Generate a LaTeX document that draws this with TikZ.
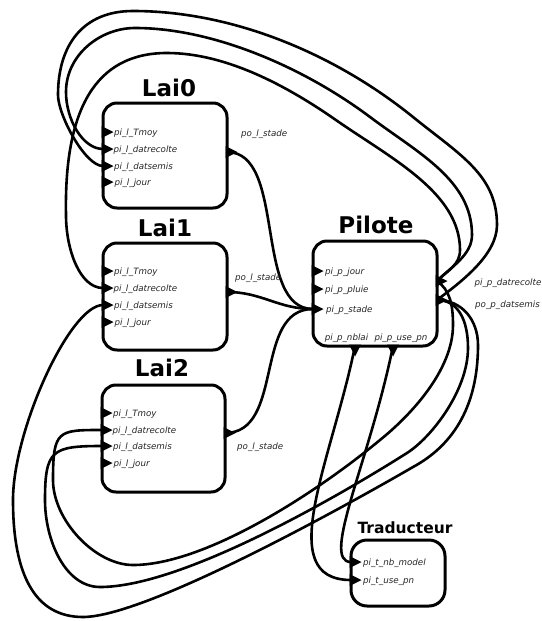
\documentclass[tikz,border=0pt]{standalone}
\usepackage{fontspec}
\setmainfont{DejaVu Sans}[ItalicFont={DejaVu Sans Oblique},BoldFont={DejaVu Sans Bold}]
\begin{document}
\begin{tikzpicture}[x=1pt,y=-1pt,
  block/.style={draw, fill=white, line width=3pt, rounded corners=14pt, inner sep=0pt},
  title/.style={font=\fontsize{23}{23}\selectfont\bfseries, anchor=base, inner sep=0pt},
  smalltitle/.style={font=\fontsize{15.5}{16}\selectfont\bfseries, anchor=base, inner sep=0pt},
  plabel/.style={font=\fontsize{8.7}{9}\selectfont\itshape, text=black!85, anchor=base west, inner sep=0pt},
  clabel/.style={font=\fontsize{8.7}{9}\selectfont\itshape, text=black!85, anchor=base, inner sep=0pt},
  wire/.style={line width=2.6pt},
  pics/portR/.style={code={\fill (-1.5,-6) -- (10.5,0) -- (-1.5,6) -- cycle;}},
  pics/portD/.style={code={\fill (-6,-1.5) -- (0,10.5) -- (6,-1.5) -- cycle;}},
]
\useasboundingbox (0,0) rectangle (541,621);

% ---------- ports ----------
% Lai0
\coordinate (l0-tmoy) at (103,132);
\coordinate (l0-dr)   at (103,149);
\coordinate (l0-ds)   at (103,166);
\coordinate (l0-jour) at (103,182);
\coordinate (l0-out)  at (227,152);
% Lai1
\coordinate (l1-tmoy) at (103,271);
\coordinate (l1-dr)   at (103,288);
\coordinate (l1-ds)   at (103,305);
\coordinate (l1-jour) at (103,322);
\coordinate (l1-out)  at (227,292);
% Lai2
\coordinate (l2-tmoy) at (102,413);
\coordinate (l2-dr)   at (102,430);
\coordinate (l2-ds)   at (102,446);
\coordinate (l2-jour) at (102,463);
\coordinate (l2-out)  at (225,433);
% Pilote
\coordinate (p-jour)  at (313,271);
\coordinate (p-pluie) at (313,289);
\coordinate (p-stade) at (313,309);
\coordinate (p-dr)    at (437,281);
\coordinate (p-ds)    at (437,300);
\coordinate (p-nblai) at (355,346);
\coordinate (p-usepn) at (393,346);
% Traducteur
\coordinate (t-nbm)   at (351,562);
\coordinate (t-usepn) at (351,580);

% ---------- connections ----------
% stade outputs into the pilot
\draw[wire] (l0-out) .. controls (287,152) and (253,309) .. (p-stade);
\draw[wire] (l1-out) .. controls (262,292) and (278,309) .. (p-stade);
\draw[wire] (l2-out) .. controls (285,433) and (253,309) .. (p-stade);

% upper feedback loops
\draw[wire] (p-ds) .. controls (461,282) and (497,255) .. (497,225)
  .. controls (497,175) and (460,155) .. (413,117)
  .. controls (335,54) and (233,11) .. (133,11)
  .. controls (83,11) and (58,45) .. (58,95)
  .. controls (58,115) and (85,166) .. (l0-ds);
\draw[wire] (p-dr) .. controls (451,267) and (472,255) .. (472,235)
  .. controls (472,180) and (418,153) .. (370,117)
  .. controls (306,69) and (215,28) .. (135,28)
  .. controls (100,28) and (66,55) .. (66,92)
  .. controls (66,120) and (83,149) .. (l0-dr);
\draw[wire] (p-dr) .. controls (448,270) and (460,265) .. (460,250)
  .. controls (460,192) and (390,158) .. (333,118)
  .. controls (288,87) and (227,53) .. (167,53)
  .. controls (95,53) and (64,110) .. (66,215)
  .. controls (66,250) and (80,288) .. (l1-dr);

% lower feedback loops
\draw[wire] (p-ds) .. controls (462,300) and (478,320) .. (478,345)
  .. controls (478,410) and (450,447) .. (413,467)
  .. controls (370,492) and (150,617) .. (83,617)
  .. controls (35,617) and (13,575) .. (13,500)
  .. controls (13,430) and (70,305) .. (l1-ds);
\draw[wire] (p-ds) .. controls (458,300) and (468,320) .. (468,348)
  .. controls (468,390) and (432,437) .. (407,453)
  .. controls (331,501) and (180,587) .. (100,587)
  .. controls (65,587) and (45,540) .. (45,500)
  .. controls (45,450) and (52,446) .. (l2-ds);
\draw[wire] (p-dr) .. controls (450,290) and (453,305) .. (453,325)
  .. controls (453,370) and (411,415) .. (380,440)
  .. controls (311,497) and (203,565) .. (133,565)
  .. controls (95,565) and (53,520) .. (53,480)
  .. controls (53,430) and (58,430) .. (l2-dr);

% pilot to translator
\draw[wire] (p-nblai) .. controls (332,460) and (272,580) .. (t-usepn);
\draw[wire] (p-usepn) .. controls (370,460) and (320,562) .. (t-nbm);

% ---------- blocks ----------
\node[block, minimum width=124pt, minimum height=105pt] (lai0) at (165,155.5) {};
\node[block, minimum width=124pt, minimum height=107pt] (lai1) at (165,296.5) {};
\node[block, minimum width=123pt, minimum height=107pt] (lai2) at (163.5,438.5) {};
\node[block, minimum width=124pt, minimum height=105pt] (pilote) at (375,293.5) {};
\node[block, minimum width=94pt, minimum height=66pt, rounded corners=16pt] (trad) at (398,573) {};

% titles
\node[title] (lai0-title) at (169,96.5) {Lai0};
\node[title] (lai1-title) at (165,236.5) {Lai1};
\node[title] (lai2-title) at (162,376.5) {Lai2};
\node[title] (pilote-title) at (376,233.5) {Pilote};
\node[smalltitle] (trad-title) at (405,533.5) {Traducteur};

% port markers
\foreach \p in {l0-tmoy,l0-dr,l0-ds,l0-jour,l0-out,
                l1-tmoy,l1-dr,l1-ds,l1-jour,l1-out,
                l2-tmoy,l2-dr,l2-ds,l2-jour,l2-out,
                p-jour,p-pluie,p-stade,p-dr,p-ds,t-nbm,t-usepn}
  \pic at (\p) {portR};
\pic at (p-nblai) {portD};
\pic at (p-usepn) {portD};

% port names
\node[plabel] (l0-tmoy-lbl) at (114,135) {pi\_l\_Tmoy};
\node[plabel] (l0-dr-lbl)   at (113.5,152) {pi\_l\_datrecolte};
\node[plabel] (l0-ds-lbl)   at (114,169) {pi\_l\_datsemis};
\node[plabel] (l0-jour-lbl) at (114.5,185) {pi\_l\_jour};
\node[plabel] (l0-out-lbl)  at (241,136) {po\_l\_stade};

\node[plabel] (l1-tmoy-lbl) at (114,274) {pi\_l\_Tmoy};
\node[plabel] (l1-dr-lbl)   at (113.5,291) {pi\_l\_datrecolte};
\node[plabel] (l1-ds-lbl)   at (114,308) {pi\_l\_datsemis};
\node[plabel] (l1-jour-lbl) at (114.5,325) {pi\_l\_jour};
\node[plabel] (l1-out-lbl)  at (235,280) {po\_l\_stade};

\node[plabel] (l2-tmoy-lbl) at (113,416) {pi\_l\_Tmoy};
\node[plabel] (l2-dr-lbl)   at (112.5,433) {pi\_l\_datrecolte};
\node[plabel] (l2-ds-lbl)   at (113,449) {pi\_l\_datsemis};
\node[plabel] (l2-jour-lbl) at (113.5,466) {pi\_l\_jour};
\node[plabel] (l2-out-lbl)  at (237,449) {po\_l\_stade};

\node[plabel] (p-jour-lbl)  at (325,274) {pi\_p\_jour};
\node[plabel] (p-pluie-lbl) at (325,292) {pi\_p\_pluie};
\node[plabel] (p-stade-lbl) at (326,312) {pi\_p\_stade};
\node[plabel] (p-dr-lbl)    at (474.5,285) {pi\_p\_datrecolte};
\node[plabel] (p-ds-lbl)    at (475,307) {po\_p\_datsemis};
\node[clabel] (p-nblai-lbl) at (346.5,340) {pi\_p\_nblai};
\node[clabel] (p-usepn-lbl) at (401,340) {pi\_p\_use\_pn};

\node[plabel] (t-nbm-lbl)   at (363,565) {pi\_t\_nb\_model};
\node[plabel] (t-usepn-lbl) at (363,583) {pi\_t\_use\_pn};
\end{tikzpicture}
\end{document}
